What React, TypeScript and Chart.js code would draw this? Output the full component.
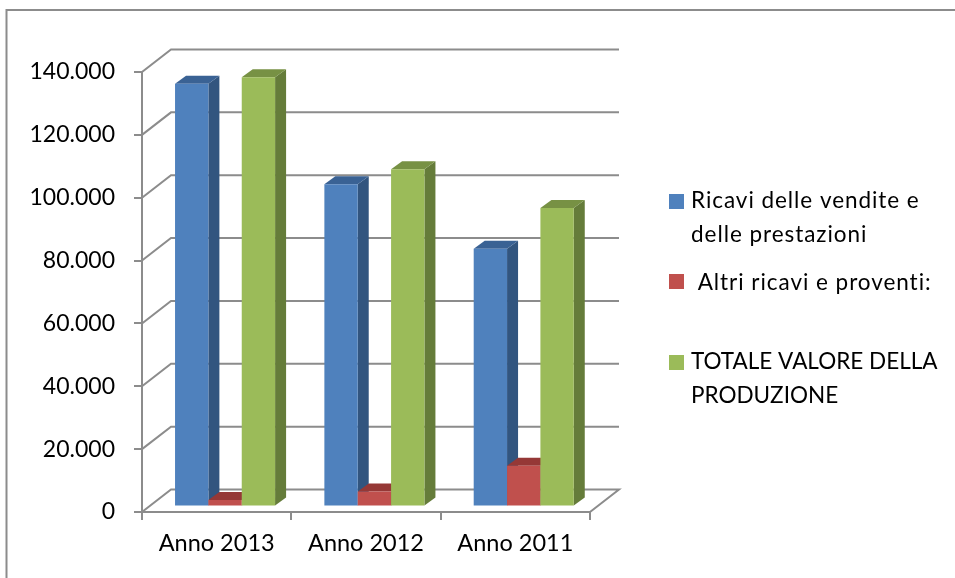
import React, { useEffect, useRef } from "react";
import { Chart, registerables } from "chart.js";

Chart.register(...registerables);

const categories = ["Anno 2013", "Anno 2012", "Anno 2011"];
const ricavi = [134500, 102500, 82000];
const altri = [2100, 4800, 13000];
const totale = [136600, 107300, 95000];
const seriesNames = ["Ricavi delle vendite e delle prestazioni", "Altri ricavi e proventi:", "TOTALE VALORE DELLA PRODUZIONE"];
const legendLines = [
  ["Ricavi delle vendite e", "delle prestazioni"],
  [" Altri ricavi e proventi:"],
  ["TOTALE VALORE DELLA", "PRODUZIONE"],
];
const frontColors = ["#4F81BD", "#C0504D", "#9BBB59"];
const topColors = ["#3A6294", "#953836", "#779144"];
const sideColors = ["#32557F", "#7F2F2D", "#657C3A"];

const FONT = "Lato, 'Open Sans', sans-serif";
const GRID = "#8C8C8C";
const WALL_DX = 29;
const WALL_DY = 22.5;
const BAR_DX = 8.4;
const BAR_DY = 5.5;
const DEPTH_DX = 11;
const DEPTH_DY = 8;

const wallPlugin = {
  id: "wall",
  beforeDatasetsDraw(chart: any) {
    const { ctx, scales } = chart;
    const y = scales.y;
    const x = scales.x;
    ctx.save();
    ctx.strokeStyle = GRID;
    ctx.lineWidth = 2;
    y.ticks.forEach((t: any) => {
      const py = y.getPixelForValue(t.value);
      ctx.beginPath();
      ctx.moveTo(x.left, py);
      ctx.lineTo(x.left + WALL_DX, py - WALL_DY);
      ctx.lineTo(x.right + WALL_DX, py - WALL_DY);
      if (t.value === 0) ctx.lineTo(x.right, py);
      ctx.stroke();
    });
    ctx.restore();
  },
};

// Series are painted left to right so that each bar's front covers the
// depth face of its left neighbour; the library's own pass is cancelled.
const bar3dPlugin = {
  id: "bar3d",
  beforeDatasetsDraw(chart: any) {
    const { ctx } = chart;
    ctx.save();
    ctx.translate(BAR_DX, -BAR_DY);
    chart.data.datasets.forEach((_: any, i: number) => {
      const meta = chart.getDatasetMeta(i);
      meta.data.forEach((el: any) => {
        const p = el.getProps(["x", "y", "base", "width"], true);
        const l = p.x - p.width / 2;
        const r = p.x + p.width / 2;
        ctx.fillStyle = sideColors[i];
        ctx.beginPath();
        ctx.moveTo(r, p.y);
        ctx.lineTo(r + DEPTH_DX, p.y - DEPTH_DY);
        ctx.lineTo(r + DEPTH_DX, p.base - DEPTH_DY);
        ctx.lineTo(r, p.base);
        ctx.closePath();
        ctx.fill();
        ctx.fillStyle = topColors[i];
        ctx.beginPath();
        ctx.moveTo(l, p.y);
        ctx.lineTo(l + DEPTH_DX, p.y - DEPTH_DY);
        ctx.lineTo(r + DEPTH_DX, p.y - DEPTH_DY);
        ctx.lineTo(r, p.y);
        ctx.closePath();
        ctx.fill();
      });
      meta.controller.draw();
    });
    ctx.restore();
  },
  beforeDatasetDraw() {
    return false;
  },
};

const legendPlugin = {
  id: "sideLegend",
  afterDraw(chart: any) {
    const { ctx } = chart;
    const swatchTops = [194, 274, 355];
    const baselines = [208, 290, 369];
    ctx.save();
    ctx.font = `22.5px ${FONT}`;
    ctx.textBaseline = "alphabetic";
    ctx.textAlign = "left";
    legendLines.forEach((lines, i) => {
      ctx.fillStyle = frontColors[i];
      ctx.fillRect(669, swatchTops[i], 15, 15);
      ctx.fillStyle = "#000";
      // mixed-case lines run a little wider than the capitals in the reference
      ctx.letterSpacing = i === 2 ? "0px" : "0.95px";
      lines.forEach((line, j) => ctx.fillText(line, 691, baselines[i] + j * 33.5));
    });
    ctx.restore();
  },
};

const framePlugin = {
  id: "frame",
  beforeDraw(chart: any) {
    const { ctx, width, height } = chart;
    ctx.save();
    ctx.fillStyle = "#fff";
    ctx.fillRect(0, 0, width, height);
    ctx.strokeStyle = GRID;
    ctx.lineWidth = 2;
    ctx.beginPath();
    ctx.moveTo(6.5, height);
    ctx.lineTo(6.5, 10);
    ctx.lineTo(width, 10);
    ctx.stroke();
    ctx.restore();
  },
};

export default function App() {
  const ref = useRef<HTMLCanvasElement>(null);
  useEffect(() => {
    const chart = new Chart(ref.current!, {
      type: "bar",
      data: {
        labels: categories,
        datasets: [ricavi, altri, totale].map((data, i) => ({
          label: seriesNames[i],
          data,
          backgroundColor: frontColors[i],
          categoryPercentage: 0.67,
          barPercentage: 1,
        })),
      },
      options: {
        animation: false,
        responsive: false,
        devicePixelRatio: 1,
        layout: { padding: { left: 0, top: 72, right: 365, bottom: 0 } },
        plugins: { legend: { display: false }, title: { display: false }, tooltip: { enabled: false } },
        scales: {
          x: {
            grid: { drawOnChartArea: false, color: GRID, lineWidth: 2, tickLength: 8, offset: true },
            border: { color: GRID, width: 2 },
            ticks: { color: "#000", font: { family: FONT, size: 23.5 }, padding: 9, maxRotation: 0 },
            afterFit(s: any) { s.height = 66; },
          },
          y: {
            min: 0,
            max: 140000,
            grid: { drawOnChartArea: false, color: GRID, lineWidth: 2, tickLength: 8 },
            border: { color: GRID, width: 2 },
            ticks: {
              stepSize: 20000,
              color: "#000",
              font: { family: FONT, size: 23 },
              padding: 19,
              callback: (v: any) => (v === 0 ? "0" : `${v / 1000}.000`),
            },
            afterFit(s: any) { s.width = 142; },
          },
        },
      },
      plugins: [framePlugin, wallPlugin, bar3dPlugin, legendPlugin],
    });
    return () => chart.destroy();
  }, []);
  return (
    <div style={{ position: "fixed", left: 0, top: 0, width: 955, height: 578 }}>
      <canvas ref={ref} width={955} height={578} style={{ display: "block" }} />
    </div>
  );
}
